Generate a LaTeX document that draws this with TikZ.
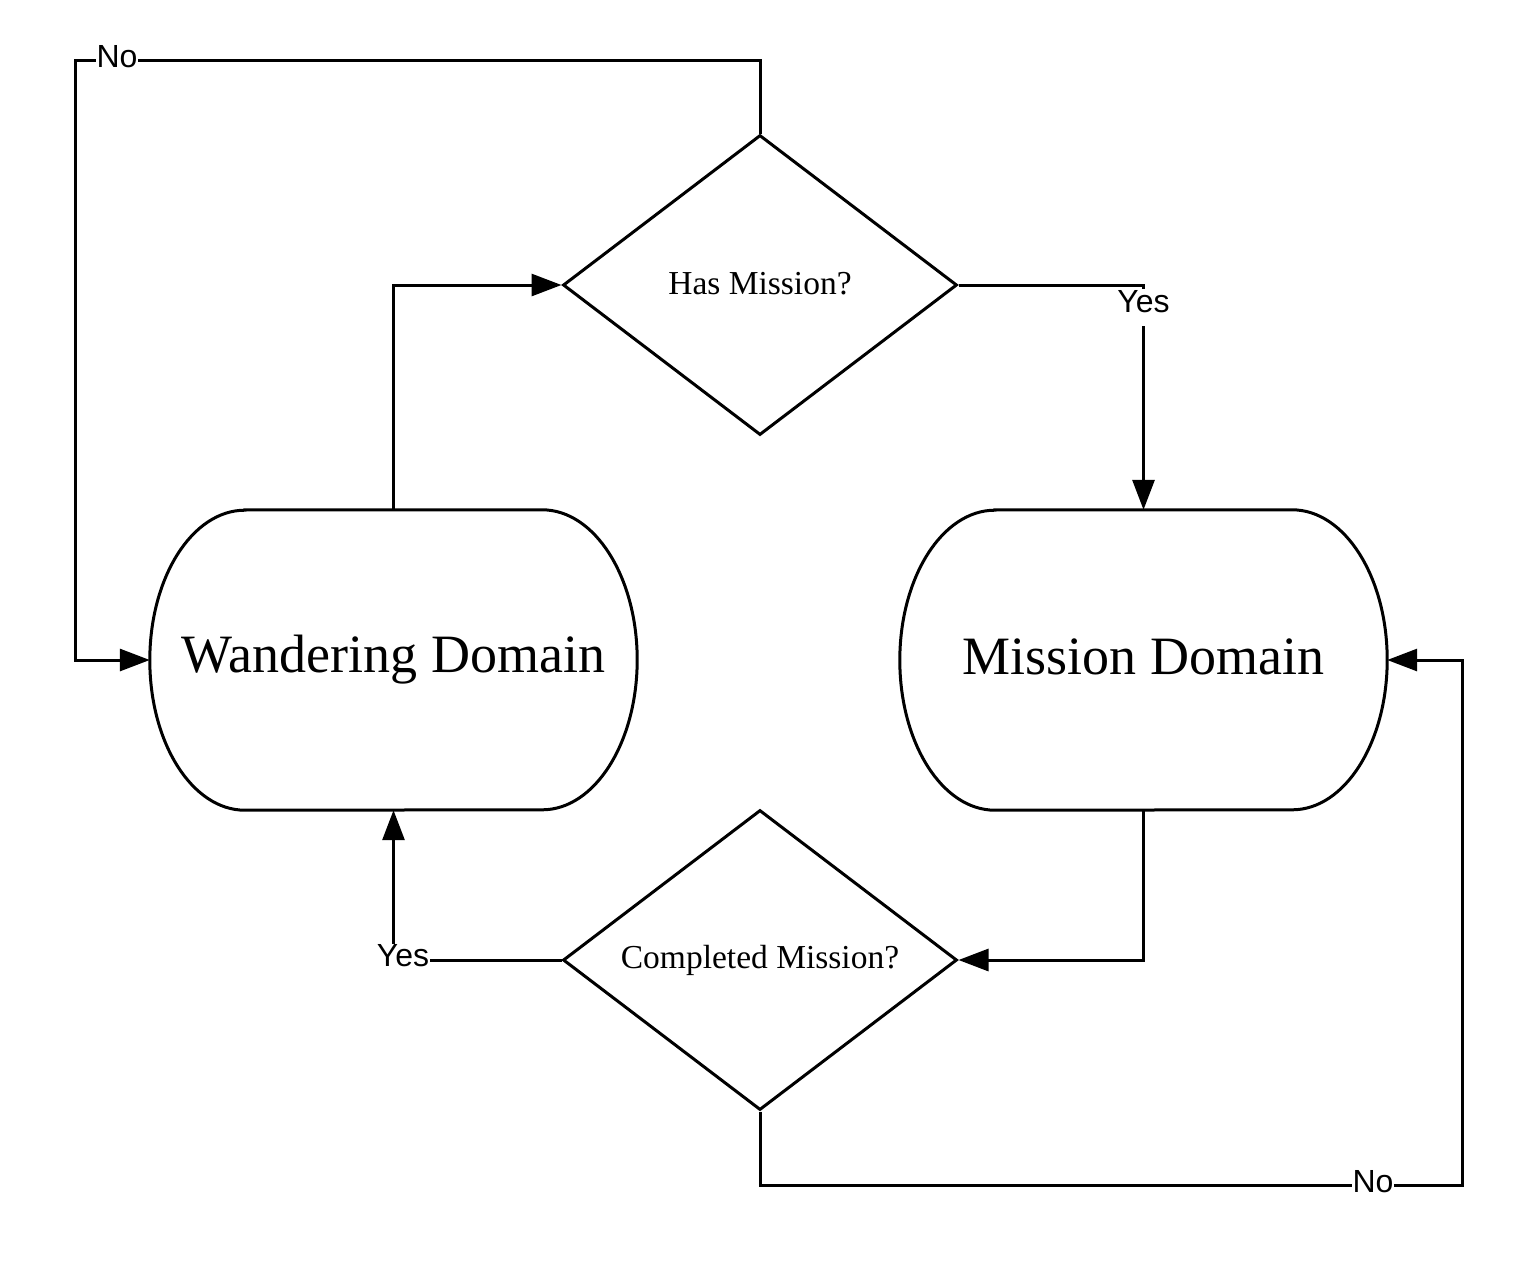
\documentclass[tikz,border=0pt]{standalone}
\usepackage{fontspec}
\setmainfont{Liberation Serif}
\newfontfamily\labfont{Liberation Sans}
\usetikzlibrary{arrows.meta,shapes.geometric}
\begin{document}
\begin{tikzpicture}[x=1pt,y=-1pt,
  ln/.style={line width=3pt,line join=miter},
  arr/.style={ln,-{Triangle[length=30pt,width=22pt]}},
  dec/.style={diamond,draw,line width=3pt,minimum width=394pt,minimum height=300pt,aspect=1.313,inner sep=0pt,font=\fontsize{33.5}{36}\selectfont},
  dom/.style={draw=none,minimum width=487pt,minimum height=300pt,inner sep=0pt,font=\fontsize{54}{60}\selectfont},
  lab/.style={fill=white,inner xsep=1pt,inner ysep=1pt,font=\labfont\fontsize{32}{34}\selectfont}]
\useasboundingbox[fill=white] (0,0) rectangle (1538,1280);

\node[dom] (wd) at (393.5,660) {\raisebox{7pt}{Wandering Domain}};
\node[dom] (md) at (1143.5,660) {\raisebox{7pt}{Mission Domain}};
\foreach \n in {wd,md}{
  \draw[ln] ([xshift=95pt]\n.north west) -- ([xshift=-95pt]\n.north east)
    arc[start angle=90,end angle=-90,x radius=95pt,y radius=150pt]
    -- ([xshift=95pt]\n.south west)
    arc[start angle=270,end angle=90,x radius=95pt,y radius=150pt] -- cycle;
}

\node[dec] (hm) at (760,285) {\raisebox{3pt}{Has Mission?}};
\node[dec] (cm) at (760,960) {\raisebox{3pt}{Completed Mission?}};

\coordinate (c1) at (760,60);
\coordinate (c2) at (75,60);
\coordinate (c3) at (75,660);
\coordinate (c4) at (393.5,285);
\coordinate (c5) at (1143.5,285);
\coordinate (c6) at (1143.5,960);
\coordinate (c7) at (393.5,960);
\coordinate (c8) at (760,1185);
\coordinate (c9) at (1462,1185);
\coordinate (c10) at (1462,660);

% Has Mission? -> No -> Wandering
\draw[arr] (hm.north) -- (c1) -- (c2) -- (c3) -- (wd.west);
% Wandering -> Has Mission?
\draw[arr] (wd.north) -- (c4) -- (hm.west);
% Has Mission? -> Yes -> Mission
\draw[arr] (hm.east) -- (c5) -- (md.north);
% Mission -> Completed
\draw[arr] (md.south) -- (c6) -- (cm.east);
% Completed -> Yes -> Wandering
\draw[arr] (cm.west) -- (c7) -- (wd.south);
% Completed -> No -> Mission
\draw[arr] (cm.south) -- (c8) -- (c9) -- (c10) -- (md.east);

\node[lab] (no1) at (117,57) {No};
\node[lab,text depth=13pt,anchor=base] (yes1) at (1143.5,312) {Yes};
\node[lab] (yes2) at (403,956) {Yes};
\node[lab] (no2) at (1373,1182) {No};
\end{tikzpicture}
\end{document}
